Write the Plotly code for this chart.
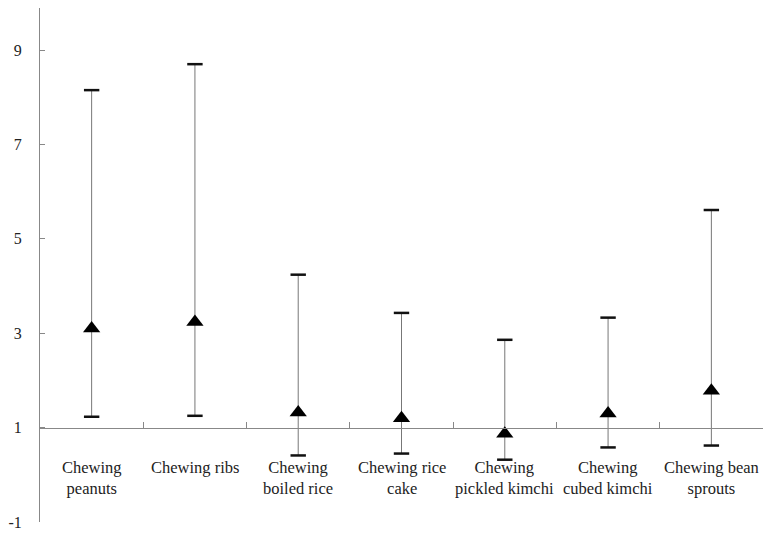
import plotly.graph_objects as go

categories = ["Chewing<br>peanuts", "Chewing ribs", "Chewing<br>boiled rice", "Chewing rice<br>cake",
              "Chewing<br>pickled kimchi", "Chewing<br>cubed kimchi", "Chewing bean<br>sprouts"]
means = [3.10, 3.24, 1.32, 1.20, 0.87, 1.30, 1.78]
upper = [8.15, 8.70, 4.24, 3.43, 2.86, 3.33, 5.61]
lower = [1.23, 1.25, 0.41, 0.45, 0.32, 0.58, 0.62]
y_ticks = [-1, 1, 3, 5, 7, 9]
y_tick_text = ["-1", "1", "3", "5", "7", "9"]

xs = list(range(len(categories)))
font = "Liberation Serif"

fig = go.Figure()
# stems
fig.add_trace(go.Scatter(
    x=xs, y=means, mode="markers",
    marker=dict(size=1, color="rgba(0,0,0,0)"),
    error_y=dict(type="data", symmetric=False,
                 array=[u - m for u, m in zip(upper, means)],
                 arrayminus=[m - l for m, l in zip(means, lower)],
                 color="#777777", thickness=1, width=0),
    showlegend=False, hoverinfo="skip"))
# caps
fig.add_trace(go.Scatter(
    x=xs + xs, y=upper + lower, mode="markers",
    marker=dict(symbol="line-ew-open", size=11, color="#111111",
                line=dict(color="#111111", width=2.5)),
    showlegend=False, hoverinfo="skip"))
# means
fig.add_trace(go.Scatter(
    x=xs, y=means, mode="markers",
    marker=dict(symbol="triangle-up", size=15, color="black"),
    showlegend=False))

for x, lab in zip(xs, categories):
    fig.add_annotation(x=x, y=0.40, xref="x", yref="y", text=lab, showarrow=False,
                       yanchor="top", xanchor="center",
                       font=dict(family=font, size=16.5, color="#222222"))

fig.update_layout(
    width=768, height=529,
    margin=dict(l=29, r=13, t=0, b=15),
    plot_bgcolor="white", paper_bgcolor="white",
    font=dict(family=font, size=16, color="#222222"),
    xaxis=dict(range=[-0.5, 6.5], showgrid=False, zeroline=False,
               showline=True, linecolor="#888888", linewidth=1,
               anchor="free", position=2 / 10.89,
               ticks="inside", tickvals=[0.5, 1.5, 2.5, 3.5, 4.5, 5.5, 6.5],
               ticklen=6, tickcolor="#888888", showticklabels=False),
    yaxis=dict(range=[-1, 9.89], showgrid=False, zeroline=False,
               showline=True, linecolor="#888888", linewidth=1,
               tickvals=y_ticks, ticktext=y_tick_text, ticks="inside", ticklen=5,
               tickcolor="#888888",
               ticklabelstandoff=14, tickfont=dict(family=font, size=16, color="#222222")),
)

fig.write_html("out.html")
